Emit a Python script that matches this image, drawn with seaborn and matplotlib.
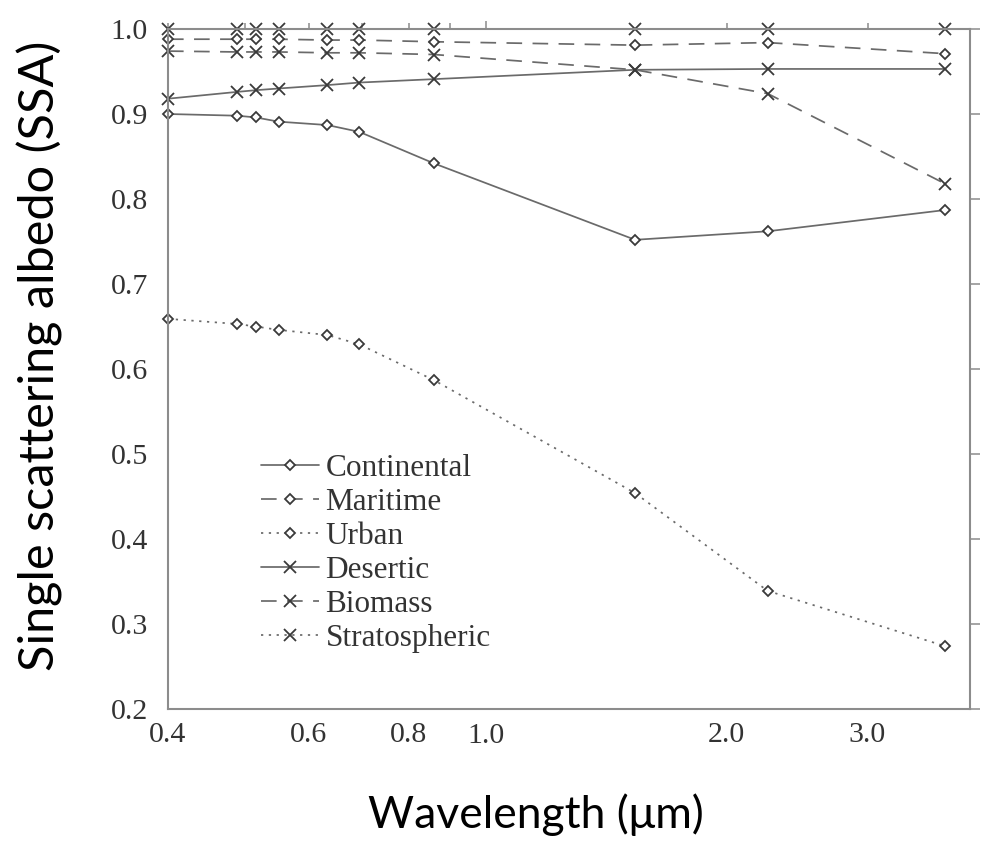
import numpy as np
import pandas as pd
import matplotlib
matplotlib.use("Agg")
import matplotlib.pyplot as plt
from matplotlib.ticker import FixedLocator, FixedFormatter
import seaborn as sns

# Wavelengths (µm) of the OPAC aerosol models
wavelength = [0.4, 0.488, 0.515, 0.55, 0.633, 0.694, 0.86, 1.536, 2.25, 3.75]

# Single scattering albedo per aerosol type
continental   = [0.900, 0.898, 0.896, 0.891, 0.887, 0.879, 0.842, 0.752, 0.762, 0.787]
maritime      = [0.988, 0.988, 0.988, 0.988, 0.987, 0.987, 0.985, 0.981, 0.984, 0.971]
urban         = [0.659, 0.653, 0.650, 0.646, 0.640, 0.629, 0.587, 0.454, 0.339, 0.274]
desertic      = [0.918, 0.926, 0.928, 0.930, 0.934, 0.937, 0.941, 0.952, 0.953, 0.953]
biomass       = [0.974, 0.973, 0.973, 0.973, 0.972, 0.972, 0.970, 0.952, 0.924, 0.818]
stratospheric = [1.000, 1.000, 1.000, 1.000, 1.000, 1.000, 1.000, 1.000, 1.000, 1.000]

series_names = ["Continental", "Maritime", "Urban", "Desertic", "Biomass", "Stratospheric"]
series_values = [continental, maritime, urban, desertic, biomass, stratospheric]

x_major = [1.0]
x_minor = [0.4, 0.5, 0.6, 0.7, 0.8, 0.9, 2.0, 3.0]
x_minor_labels = ["0.4", "", "0.6", "", "0.8", "", "2.0", "3.0"]
y_ticks = [0.2, 0.3, 0.4, 0.5, 0.6, 0.7, 0.8, 0.9, 1.0]

df = pd.concat(
    [pd.DataFrame({"wavelength": wavelength, "ssa": v, "type": n})
     for n, v in zip(series_names, series_values)],
    ignore_index=True,
)

sns.set_theme(style="white")
plt.rcParams["font.family"] = ["Liberation Serif", "DejaVu Serif"]

LINE = "#6a6a6a"
MARK = "#3a3a3a"
AXC = "#8c8c8c"

solid = "-"
dashed = (0, (9, 6))
dotted = (0, (1.3, 3.2))
styles = {
    "Continental":   (solid,  "D", 5.0),
    "Maritime":      (dashed, "D", 5.0),
    "Urban":         (dotted, "D", 5.0),
    "Desertic":      (solid,  "x", 8.5),
    "Biomass":       (dashed, "x", 8.5),
    "Stratospheric": (dotted, "x", 8.5),
}

fig = plt.figure(figsize=(9.81, 8.5), dpi=100)
fig.patch.set_facecolor("white")
ax = fig.add_axes([168 / 981, (850 - 709) / 850, (970 - 168) / 981, (709 - 29) / 850])

for name in series_names:
    ls, mk, ms = styles[name]
    sub = df[df["type"] == name]
    sns.lineplot(
        data=sub, x="wavelength", y="ssa", ax=ax, label=name,
        color=LINE, linewidth=1.25, linestyle=ls,
        marker=mk, markersize=ms, markerfacecolor="white",
        markeredgecolor=MARK, markeredgewidth=1.3, clip_on=False,
        sort=False, estimator=None,
    )

ax.set_xscale("log")
ax.set_xlim(0.4, 4.03)
ax.set_ylim(0.2, 1.0)

ax.xaxis.set_major_locator(FixedLocator(x_major))
ax.xaxis.set_major_formatter(FixedFormatter(["1.0"]))
ax.xaxis.set_minor_locator(FixedLocator(x_minor))
ax.xaxis.set_minor_formatter(FixedFormatter(x_minor_labels))
ax.yaxis.set_major_locator(FixedLocator(y_ticks))
ax.set_yticklabels([f"{v:.1f}" for v in y_ticks])

for s in ax.spines.values():
    s.set_color(AXC)
    s.set_linewidth(1.5)

ax.tick_params(axis="both", which="both", direction="out", color=AXC,
               top=True, right=True, labeltop=False, labelright=False,
               labelsize=21.5, labelcolor="#333333")
ax.tick_params(axis="x", which="major", length=6, width=1.1, pad=4)
ax.tick_params(axis="x", which="minor", length=4, width=1.1, pad=5.5)
ax.tick_params(axis="y", which="major", length=7.5, width=1.1, pad=7)

ax.set_xlabel("")
ax.set_ylabel("")

leg = ax.legend(
    loc="upper left", bbox_to_anchor=(0.097, 0.398), frameon=False,
    borderpad=0, handlelength=1.85, handletextpad=0.2, labelspacing=0.16,
    prop={"family": "Liberation Serif", "size": 22.5},
)
for t in leg.get_texts():
    t.set_color("#333333")

fig.text(536 / 981, 1 - 828 / 850, "Wavelength (μm)", family="Lato",
         fontsize=32, color="black", ha="center", va="baseline")
fig.text(55 / 981, 1 - 356 / 850, "Single scattering albedo (SSA)", family="Lato",
         fontsize=35, color="black", ha="center", va="baseline",
         rotation=90, rotation_mode="anchor")

fig.savefig("out.png", dpi=100, facecolor="white")
